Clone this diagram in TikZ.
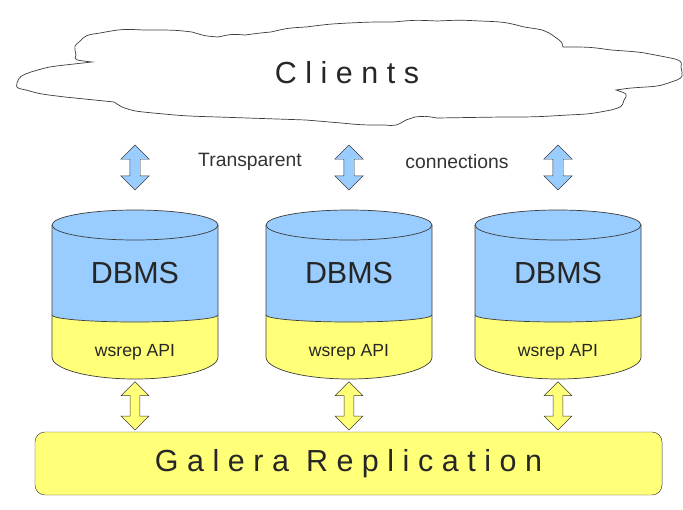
\documentclass[tikz,border=0pt]{standalone}
\usepackage{fontspec}
\setmainfont{Liberation Sans}
\newfontfamily\spacedfont[LetterSpace=28]{Liberation Sans}
\usepackage{tikz}
\usetikzlibrary{shapes.arrows, positioning}
\definecolor{dbblue}{RGB}{153,204,255}
\definecolor{apiyellow}{RGB}{255,255,120}
\definecolor{edge}{RGB}{60,60,60}
\tikzstyle{bigtext} = [font=\spacedfont\fontsize{26}{30}\selectfont, text=black!85]
\tikzstyle{dbtext} = [font=\fontsize{26}{30}\selectfont, text=black!85]
\tikzstyle{apitext} = [font=\fontsize{15}{18}\selectfont, text=black!85]
\tikzstyle{note} = [font=\fontsize{16.5}{20}\selectfont, text=black!80]
\tikzstyle{galera} = [rectangle, rounded corners=0.3cm, minimum width=18.81cm, minimum height=1.89cm, draw=edge, fill=apiyellow]
\tikzstyle{barrow} = [double arrow, draw=edge, fill=dbblue, inner sep=0.15cm, minimum height=1.35cm, double arrow head extend=0.27cm, sloped]
\tikzstyle{yarrow} = [double arrow, draw=edge, fill=apiyellow, inner sep=0.14cm, minimum height=1.45cm, double arrow head extend=0.27cm, sloped]
\tikzstyle{body} = [draw=edge, line width=0.6pt]

\begin{document}
\begin{tikzpicture}[x=0.03cm, y=-0.03cm]
\useasboundingbox (0,0) rectangle (683,509);

% Clients cloud
\draw [body, fill=white] (17,83) .. controls (20,76) .. (31,72) .. controls (48,67) .. (65,65)
  -- (92,62) .. controls (74,60) .. (76,55) .. controls (74,46) .. (79,42)
  .. controls (86,35) .. (100,33) .. controls (122,29) .. (144,30)
  .. controls (175,30) .. (192,32) .. controls (205,36) .. (218,37)
  .. controls (232,34) .. (245,35) .. controls (260,33) .. (271,32)
  .. controls (288,28) .. (306,27) .. controls (330,24) .. (349,23)
  .. controls (370,22) .. (393,22) .. controls (415,20) .. (437,21)
  .. controls (460,20) .. (480,21) .. controls (505,22) .. (524,27)
  .. controls (545,30) .. (555,37) .. controls (562,42) .. (563,47)
  .. controls (590,47) .. (611,50) .. controls (640,52) .. (655,55)
  .. controls (682,60) .. (681,67) .. controls (683,77) .. (677,80)
  .. controls (660,86) .. (646,87) .. controls (630,88) .. (616,90)
  .. controls (628,94) .. (624,100) .. controls (622,107) .. (611,110)
  .. controls (590,114) .. (568,115) .. controls (535,117) .. (502,117)
  .. controls (470,118) .. (437,118) .. controls (425,116) .. (415,117)
  .. controls (410,118) .. (406,120) .. controls (396,126) .. (384,125)
  .. controls (362,125) .. (341,123) .. controls (324,122) .. (306,120)
  .. controls (262,118) .. (218,117) .. controls (185,116) .. (153,113)
  .. controls (133,111) .. (122,107) .. controls (117,104) .. (114,102)
  .. controls (90,100) .. (65,97) .. controls (40,94) .. (26,90)
  .. controls (16,88) .. cycle;
\node (clients) [bigtext] at (347,73) {Clients};
\coordinate (cloudbase) at (0,125);

% Database nodes
\coordinate (db1-top) at (135,210);
\coordinate (db2-top) at (349,210);
\coordinate (db3-top) at (558,210);
\coordinate (db1-bot) at (135,380);
\coordinate (db2-bot) at (349,380);
\coordinate (db3-bot) at (558,380);

% DBMS 1
\fill [dbblue] (52,225) -- (52,315) arc[start angle=180, end angle=360, x radius=2.49cm, y radius=0.21cm] -- (218,225) -- cycle;
\fill [apiyellow] (52,315) arc[start angle=180, end angle=360, x radius=2.49cm, y radius=0.21cm] -- (218,357) arc[start angle=0, end angle=-180, x radius=2.49cm, y radius=0.66cm] -- cycle;
\draw [body] (52,225) -- (52,357) arc[start angle=180, end angle=360, x radius=2.49cm, y radius=0.66cm] -- (218,225);
\draw [body] (52,315) arc[start angle=180, end angle=360, x radius=2.49cm, y radius=0.21cm];
\draw [body, fill=dbblue] (135,225) ellipse [x radius=2.49cm, y radius=0.45cm];
\node (dbms1) [dbtext] at (135,273) {DBMS};
\node (api1) [apitext] at (135,352) {wsrep API};

% DBMS 2
\fill [dbblue] (266,225) -- (266,315) arc[start angle=180, end angle=360, x radius=2.49cm, y radius=0.21cm] -- (432,225) -- cycle;
\fill [apiyellow] (266,315) arc[start angle=180, end angle=360, x radius=2.49cm, y radius=0.21cm] -- (432,357) arc[start angle=0, end angle=-180, x radius=2.49cm, y radius=0.66cm] -- cycle;
\draw [body] (266,225) -- (266,357) arc[start angle=180, end angle=360, x radius=2.49cm, y radius=0.66cm] -- (432,225);
\draw [body] (266,315) arc[start angle=180, end angle=360, x radius=2.49cm, y radius=0.21cm];
\draw [body, fill=dbblue] (349,225) ellipse [x radius=2.49cm, y radius=0.45cm];
\node (dbms2) [dbtext] at (349,273) {DBMS};
\node (api2) [apitext] at (349,352) {wsrep API};

% DBMS 3
\fill [dbblue] (475,225) -- (475,315) arc[start angle=180, end angle=360, x radius=2.49cm, y radius=0.21cm] -- (641,225) -- cycle;
\fill [apiyellow] (475,315) arc[start angle=180, end angle=360, x radius=2.49cm, y radius=0.21cm] -- (641,357) arc[start angle=0, end angle=-180, x radius=2.49cm, y radius=0.66cm] -- cycle;
\draw [body] (475,225) -- (475,357) arc[start angle=180, end angle=360, x radius=2.49cm, y radius=0.66cm] -- (641,225);
\draw [body] (475,315) arc[start angle=180, end angle=360, x radius=2.49cm, y radius=0.21cm];
\draw [body, fill=dbblue] (558,225) ellipse [x radius=2.49cm, y radius=0.45cm];
\node (dbms3) [dbtext] at (558,273) {DBMS};
\node (api3) [apitext] at (558,352) {wsrep API};

% Galera layer
\node (galera) [galera] at (348.5,463.5) {};
\node (galeratext) [bigtext] at (galera.center) {Galera Replication};

% Transparent connections
\path (db1-top) -- node (link1) [barrow] {} (db1-top |- cloudbase);
\path (db2-top) -- node (link2) [barrow] {} (db2-top |- cloudbase);
\path (db3-top) -- node (link3) [barrow] {} (db3-top |- cloudbase);
\node (transp) [note] at (250,162) {Transparent};
\node (conn) [note] at (457,162) {connections};

% Replication links
\path (db1-bot) -- node (rep1) [yarrow] {} (db1-bot |- galera.north);
\path (db2-bot) -- node (rep2) [yarrow] {} (db2-bot |- galera.north);
\path (db3-bot) -- node (rep3) [yarrow] {} (db3-bot |- galera.north);
\end{tikzpicture}
\end{document}
